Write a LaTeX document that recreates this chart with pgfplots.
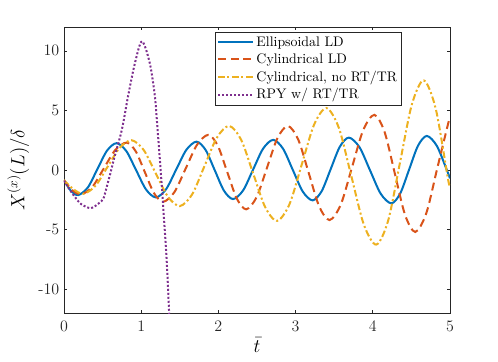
\documentclass[border=0pt]{standalone}
\usepackage{pgfplots}
\pgfplotsset{compat=1.18}
\definecolor{mblue}{rgb}{0,0.447,0.741}
\definecolor{morange}{rgb}{0.85,0.325,0.098}
\definecolor{myellow}{rgb}{0.929,0.694,0.125}
\definecolor{mpurple}{rgb}{0.494,0.184,0.556}
\definecolor{axgray}{rgb}{0.15,0.15,0.15}
\begin{document}
\begin{tikzpicture}
\useasboundingbox (-48pt,-36pt) rectangle (325.5pt,234.75pt);
\begin{axis}[
  scale only axis, width=289.5pt, height=214.5pt,
  xmin=0, xmax=5, ymin=-12, ymax=12,
  xtick={0,1,2,3,4,5}, ytick={-10,-5,0,5,10},
  xticklabels={0,1,2,3,4,5},
  yticklabels={{-10},{-5},0,5,10},
  tick align=inside, major tick length=2.5pt,
  axis line style={axgray, line width=0.5pt},
  tick style={axgray, line width=0.5pt},
  ticklabel style={font=\fontsize{12}{14}\selectfont, text=axgray},
  xticklabel style={yshift=-2pt},
  label style={font=\fontsize{14.5}{16}\selectfont},
  xlabel={$\bar{t}$}, ylabel={$X^{(x)}(L)/\delta$},
  xlabel style={yshift=2pt},
  legend style={at={(0.876,0.984)}, anchor=north east,
    font=\fontsize{10.4}{12.5}\selectfont, draw=axgray, line width=0.5pt,
    fill=white, inner sep=1.5pt, row sep=0pt},
  legend cell align=left,
  legend image code/.code={\draw[#1] (0pt,0pt) -- (26pt,0pt);},
  every axis plot/.append style={line width=1.5pt},
]
\addplot[mblue, solid, smooth] coordinates {
(0,-0.85) (0.09,-1.75) (0.185,-2.1) (0.309,-1.463) (0.4325,0.075) (0.556,1.613) (0.68,2.25) (0.8075,1.584) (0.935,-0.025) (1.0625,-1.634) (1.19,-2.3) (1.322,-1.615) (1.4535,0.04) (1.585,1.695) (1.717,2.38) (1.835,1.674) (1.9535,-0.03) (2.072,-1.734) (2.19,-2.44) (2.32,-1.712) (2.45,0.045) (2.58,1.802) (2.71,2.53) (2.8375,1.786) (2.965,-0.01) (3.0925,-1.806) (3.22,-2.55) (3.3375,-1.778) (3.455,0.085) (3.5725,1.948) (3.69,2.72) (3.8275,1.912) (3.965,-0.04) (4.1025,-1.992) (4.24,-2.8) (4.355,-1.971) (4.47,0.03) (4.585,2.031) (4.70,2.86) (4.83,2.016) (4.96,-0.02) (5,-0.7)
};
\addlegendentry{Ellipsoidal LD}
\addplot[morange, dash pattern=on 6pt off 3.5pt, smooth] coordinates {
(0,-0.85) (0.1,-1.65) (0.22,-2.05) (0.3675,-1.413) (0.515,0.125) (0.6625,1.663) (0.81,2.3) (0.929,1.572) (1.0475,-0.185) (1.166,-1.942) (1.285,-2.67) (1.431,-1.847) (1.5775,0.14) (1.724,2.127) (1.87,2.95) (1.9925,2.035) (2.115,-0.175) (2.2375,-2.385) (2.36,-3.3) (2.495,-2.275) (2.63,0.2) (2.765,2.675) (2.90,3.7) (3.035,2.543) (3.17,-0.25) (3.305,-3.043) (3.44,-4.2) (3.585,-2.907) (3.73,0.215) (3.875,3.337) (4.02,4.63) (4.1525,3.19) (4.285,-0.285) (4.4175,-3.76) (4.55,-5.2) (4.6925,-3.633) (4.835,0.15) (4.9775,3.933) (5,4.38)
};
\addlegendentry{Cylindrical LD}
\addplot[myellow, dash pattern=on 5pt off 2pt on 1.5pt off 2pt, smooth] coordinates {
(0,-0.85) (0.12,-1.6) (0.25,-2.0) (0.406,-1.341) (0.5625,0.25) (0.719,1.841) (0.875,2.5) (1.031,1.69) (1.1875,-0.265) (1.344,-2.22) (1.50,-3.03) (1.66,-2.044) (1.82,0.335) (1.98,2.714) (2.14,3.7) (2.295,2.533) (2.45,-0.285) (2.605,-3.103) (2.76,-4.27) (2.92,-2.883) (3.08,0.465) (3.24,3.813) (3.40,5.2) (3.561,3.522) (3.7225,-0.53) (3.884,-4.582) (4.045,-6.26) (4.199,-4.242) (4.3525,0.63) (4.506,5.502) (4.66,7.52) (4.815,5.145) (4.97,-0.6) (5,-1.5)
};
\addlegendentry{Cylindrical, no RT/TR}
\addplot[mpurple, dash pattern=on 1.5pt off 1.5pt, smooth] coordinates {
(0,-0.9) (0.08,-1.7) (0.14,-2.25) (0.22,-2.85) (0.345,-3.2) (0.45,-2.8) (0.51,-2.4) (0.55,-1.5) (0.6,-0.3) (0.65,1.0) (0.75,3.4) (0.83,6.2) (0.92,9.0) (1.01,10.8) (1.11,9.0) (1.177,6.2) (1.212,3.4) (1.245,0.6) (1.28,-2.6) (1.33,-7.6) (1.362,-12) (1.38,-14.5)
};
\addlegendentry{RPY w/ RT/TR}
\end{axis}
\end{tikzpicture}
\end{document}
